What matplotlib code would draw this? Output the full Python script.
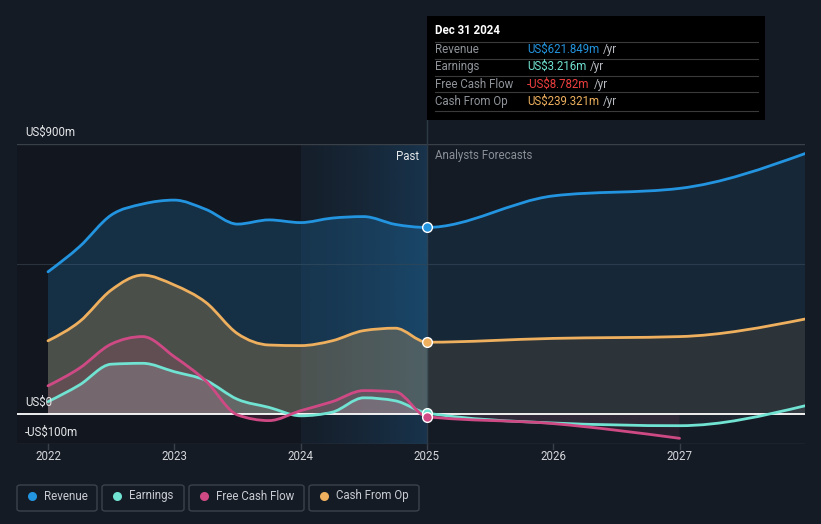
import numpy as np
import matplotlib
matplotlib.use("Agg")
import matplotlib.pyplot as plt
from matplotlib.path import Path
from matplotlib.patches import PathPatch, FancyBboxPatch, Rectangle
from matplotlib.lines import Line2D

plt.rcParams['font.family'] = ['Roboto', 'DejaVu Sans']

# ---------------- data ----------------
dates = [2022.0, 2022.25, 2022.5, 2022.75, 2023.0, 2023.25, 2023.5, 2023.75,
         2024.0, 2024.25, 2024.5, 2024.75, 2025.0, 2026.0, 2027.0, 2028.0]
revenue = [474, 558, 663, 700, 713, 682, 633, 647, 638, 653, 658, 632, 621.849,
           727, 752, 869]
earnings = [41, 97, 166, 169, 141, 112, 49, 22, -6, 6, 54, 44, 3.216,
            -30, -39, 28]
fcf = [94, 153, 233, 258, 191, 110, -3, -22, 11, 41, 78, 74, -8.782,
       -32, -81]
cfo = [244, 308, 413, 463, 430, 372, 268, 230, 228, 244, 278, 286, 239.321,
       252, 258, 317]
now_idx = 12

year_ticks = [2022, 2023, 2024, 2025, 2026, 2027]
y_labels = {900: "US$900m", 0: "US$0", -100: "-US$100m"}

C_REV = "#2394df"
C_EARN = "#71e3d2"
C_FCF = "#cf4a85"
C_CFO = "#eeb05e"
BG = "#151b25"
FS = 8.3

W, H = 821, 524
fig = plt.figure(figsize=(W / 100, H / 100), dpi=100, facecolor=BG)


def fx(x):
    return x / W


def fy(y):
    return 1 - y / H


# axes: x 17..805 px, y 144..444 px
x_left = 2022 + (17 - 48) / 126.3
x_right = 2022 + (805 - 48) / 126.3
ax = fig.add_axes([fx(17), fy(444), (805 - 17) / W, 300 / H])
ax.set_xlim(x_left, x_right)
ax.set_ylim(-100, 900)
ax.set_facecolor(BG)
ax.axis("off")


def tangents(x, y):
    x = np.asarray(x, float)
    y = np.asarray(y, float)
    n = len(x)
    h = np.diff(x)
    s = np.diff(y) / h
    t = np.zeros(n)
    for i in range(1, n - 1):
        h0, h1 = h[i - 1], h[i]
        s0, s1 = s[i - 1], s[i]
        p = (s0 * h1 + s1 * h0) / (h0 + h1)
        t[i] = (np.sign(s0) + np.sign(s1)) * min(abs(s0), abs(s1), 0.5 * abs(p))
    t[0] = (3 * s[0] - t[1]) / 2
    t[-1] = (3 * s[-1] - t[-2]) / 2
    return t


def curve(x, y, t, i0, i1):
    verts = [(x[i0], y[i0])]
    codes = [Path.MOVETO]
    for i in range(i0, i1):
        d = (x[i + 1] - x[i]) / 3
        verts += [(x[i] + d, y[i] + d * t[i]),
                  (x[i + 1] - d, y[i + 1] - d * t[i + 1]),
                  (x[i + 1], y[i + 1])]
        codes += [Path.CURVE4] * 3
    return verts, codes


# background regions
ax.add_patch(Rectangle((x_left, -100), 2024 - x_left, 1000, facecolor="#12161e",
                       edgecolor="none", zorder=0))
grad = np.zeros((2, 256, 4))
base = np.array([0x1b, 0x4a, 0x70]) / 255
for k in range(256):
    grad[:, k, :3] = base
    grad[:, k, 3] = 0.08 + 0.45 * (k / 255) ** 1.3
ax.imshow(grad, extent=[2024, 2025, -100, 900], aspect="auto", zorder=0.5,
          interpolation="bilinear")

# grid lines
ax.axhline(900, color="#3a4048", lw=1.0, zorder=1)
ax.axhline(500, color="#2a323c", lw=0.8, zorder=1)
ax.axhline(-100, color="#3a4048", lw=1.0, zorder=1)

series = [
    (revenue, C_REV, 0.20, 0.10),
    (cfo, C_CFO, 0.25, 0.10),
    (fcf, C_FCF, 0.16, 0.10),
    (earnings, "#c8ccd6", 0.20, 0.06),
]

for vals, col, a_past, a_fut in series:
    x = np.array(dates[:len(vals)], float)
    y = np.array(vals, float)
    t = tangents(x, y)
    for (i0, i1, a) in [(0, now_idx, a_past), (now_idx, len(vals) - 1, a_fut)]:
        v, c = curve(x, y, t, i0, i1)
        v = v + [(x[i1], 0), (x[i0], 0), (x[i0], y[i0])]
        c = c + [Path.LINETO, Path.LINETO, Path.CLOSEPOLY]
        ax.add_patch(PathPatch(Path(v, c), facecolor=col, alpha=a,
                               edgecolor="none", zorder=2))

# zero line
ax.axhline(0, color="white", lw=1.3, zorder=3)

for vals, col in [(revenue, C_REV), (cfo, C_CFO), (earnings, C_EARN), (fcf, C_FCF)]:
    x = np.array(dates[:len(vals)], float)
    y = np.array(vals, float)
    t = tangents(x, y)
    v, c = curve(x, y, t, 0, len(vals) - 1)
    ax.add_patch(PathPatch(Path(v, c), facecolor="none", edgecolor=col,
                           lw=2.0, zorder=4, capstyle="round", joinstyle="round"))

# now line
ax.plot([2025, 2025], [-100, 900 + 24 / 0.3], color="#2c3a48", lw=1.0,
        zorder=1.5, clip_on=False)

# markers at now
for vals, col in [(revenue, C_REV), (cfo, C_CFO), (earnings, C_EARN), (fcf, C_FCF)]:
    ax.plot(dates[now_idx], vals[now_idx], "o", ms=7, mfc=col, mec="white",
            mew=1.0, zorder=6)

# year ticks
for yr in year_ticks:
    ax.plot([yr, yr], [-100, -100 - 5 / 0.3], color="#3a4048", lw=1.0,
            clip_on=False, zorder=1)
    ax.text(yr, -100 - 13 / 0.3, str(yr), color="#d4d6da", fontsize=FS,
            ha="center", va="center", clip_on=False)

# y labels
for val, lab in y_labels.items():
    ax.text(x_left + 8 / 126.3, val + 12 / 0.3, lab, color="#e6e8ea",
            fontsize=FS, ha="left", va="center", zorder=8)

ax.text(2025 - 8 / 126.3, 900 - 12 / 0.3, "Past", color="#e6e8ea",
        fontsize=FS, ha="right", va="center", zorder=8)
ax.text(2025 + 8 / 126.3, 900 - 12 / 0.3, "Analysts Forecasts", color="#8a8f96",
        fontsize=FS, ha="left", va="center", zorder=8)

# ---------------- tooltip ----------------
fig.patches.append(Rectangle((fx(427), fy(120)), (765 - 427) / W, (120 - 16) / H,
                             transform=fig.transFigure, facecolor="#000000",
                             edgecolor="none", zorder=5))
fig.text(fx(435), fy(31), "Dec 31 2024", color="white", fontsize=FS,
         fontweight="bold", va="center", ha="left", zorder=6)
for yy in [41.5, 58.5, 75.5, 92, 111]:
    fig.add_artist(Line2D([fx(435), fx(758)], [fy(yy), fy(yy)], color="#3a3a3a",
                          lw=0.8, transform=fig.transFigure, zorder=6))
rows = [("Revenue", "US$621.849m", C_REV),
        ("Earnings", "US$3.216m", C_EARN),
        ("Free Cash Flow", "-US$8.782m", "#ee3f3f"),
        ("Cash From Op", "US$239.321m", C_CFO)]
renderer = fig.canvas.get_renderer()
for i, (lab, val, col) in enumerate(rows):
    yy = 49.5 + i * 17.3
    fig.text(fx(435), fy(yy), lab, color="#8f949a", fontsize=FS, va="center",
             ha="left", zorder=6)
    tv = fig.text(fx(527), fy(yy), val, color=col, fontsize=FS, va="center",
                  ha="left", zorder=6)
    bb = tv.get_window_extent(renderer)
    fig.text(bb.x1 / W + 4 / W, fy(yy), "/yr", color="#b8bcc2", fontsize=FS,
             va="center", ha="left", zorder=6)

# ---------------- legend ----------------
legend = [("Revenue", C_REV, 17, 97), ("Earnings", C_EARN, 102, 184),
          ("Free Cash Flow", C_FCF, 189, 304), ("Cash From Op", C_CFO, 309, 419)]
for lab, col, x0, x1 in legend:
    fig.patches.append(FancyBboxPatch((fx(x0), fy(511)), (x1 - x0) / W, 26 / H,
                                      boxstyle="round,pad=0,rounding_size=0.004",
                                      transform=fig.transFigure, facecolor="none",
                                      edgecolor="#3c424b", lw=1.0))
    fig.add_artist(Line2D([fx(x0 + 15)], [fy(496)], marker="o", ms=6.5,
                          mfc=col, mec="none", transform=fig.transFigure))
    fig.text(fx(x0 + 27), fy(496), lab, color="#c8ccd2", fontsize=FS,
             va="center", ha="left")

fig.savefig("out.png", dpi=100, facecolor=BG)
